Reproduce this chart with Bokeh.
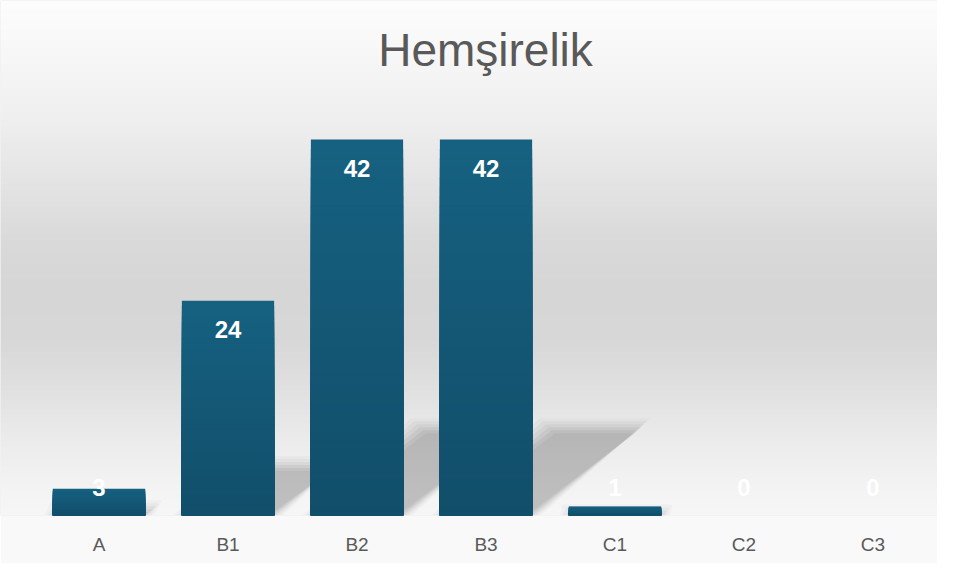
import numpy as np
from bokeh.plotting import figure
from bokeh.models import Range1d, FixedTicker, Label, ColumnDataSource
from bokeh.embed import file_html
from bokeh.resources import INLINE
from bokeh.core.properties import value

# ---- data ----
categories = ["A", "B1", "B2", "B3", "C1", "C2", "C3"]
counts = [3, 24, 42, 42, 1, 0, 0]
title_text = "Hemşirelik"

# ---- layout ----
W, H = 937, 563
FRAME_H = 515
BOTTOM = H - FRAME_H
ppu_y = 376 / 42.0
Y_MAX = FRAME_H / ppu_y
STEP = 129.0
X_START = -98.5 / STEP
X_END = X_START + W / STEP
ppu_x = STEP
BAR_W = 0.715
FONT = "Liberation Sans"

p = figure(width=W, height=H, output_backend="svg", toolbar_location=None,
           x_range=Range1d(X_START, X_END), y_range=Range1d(0, Y_MAX),
           y_axis_location=None, min_border_left=0, min_border_right=0,
           min_border_top=0, min_border_bottom=BOTTOM)
p.outline_line_color = None
p.grid.visible = False
p.border_fill_color = "#f9f9f9"
p.background_fill_color = "#e6e6e6"

# ---- background vertical gradient ----
stops_y = [0, 40, 120, 190, 240, 290, 340, 390, 440, 490, FRAME_H]   # px from top
stops_v = [253, 249, 239, 227, 218, 214, 216, 225, 236, 244, 247]
rows = np.arange(FRAME_H)
figy = FRAME_H - rows - 0.5
g = np.interp(figy, stops_y, stops_v).astype(np.uint8)
img = np.zeros((FRAME_H, 2), dtype=np.uint32)
view = img.view(dtype=np.uint8).reshape((FRAME_H, 2, 4))
view[:, :, 0] = g[:, None]
view[:, :, 1] = g[:, None]
view[:, :, 2] = g[:, None]
view[:, :, 3] = 255
p.image_rgba(image=[img], x=X_START, y=0, dw=X_END - X_START, dh=Y_MAX)

# ---- perspective shadows (soft, layered) ----
xpos = np.arange(len(categories))
vals = np.array(counts, dtype=float)
SH_X, SH_Y = 0.29, 0.235
for grow, alpha in [(9, 0.025), (6, 0.03), (3, 0.04), (0, 0.05), (-3, 0.05), (-6, 0.04)]:
    gx = grow / ppu_x
    gy = grow / ppu_y
    xs, ys = [], []
    for xi, v in zip(xpos, vals):
        if v <= 0:
            continue
        dx = SH_X * v * ppu_y / ppu_x
        dy = SH_Y * v
        x0 = xi - BAR_W / 2 - gx
        x1 = xi + BAR_W / 2 + gx
        xs.append([x0, x1, x1 + dx, x0 + dx])
        ys.append([0, 0, max(dy + gy, 0), max(dy + gy, 0)])
    p.patches(xs, ys, fill_color="black", fill_alpha=alpha, line_color=None)

# ---- bars with vertical gradient (tallest slice first, no seams) ----
N = 40
c_bot = np.array([17, 78, 106])
c_top = np.array([22, 97, 129])
bx, bt, bc = [], [], []
for xi, v in zip(xpos, vals):
    if v <= 0:
        continue
    for j in range(N - 1, -1, -1):
        t = (j + 0.5) / N
        col = (c_bot + (c_top - c_bot) * t).round().astype(int)
        bx.append(xi)
        bt.append(v * (j + 1) / N)
        bc.append("#%02x%02x%02x" % tuple(col))
p.vbar(x=bx, bottom=0, top=bt, width=BAR_W, fill_color=bc, line_color=None)

# ---- data labels ----
L = 28.5 / ppu_y
label_y = np.maximum(vals - L, L)
src = ColumnDataSource(dict(x=xpos, y=label_y, t=[str(c) for c in counts]))
p.text(x="x", y="y", text="t", source=src, text_color="white",
       text_font=value(FONT), text_font_style="bold", text_font_size="24px",
       text_align="center", text_baseline="middle")

# ---- title ----
p.add_layout(Label(x=485, y=FRAME_H - 49, x_units="screen", y_units="screen",
                   text=title_text, text_font=FONT, text_font_size="46px",
                   text_color="#595959", text_align="center", text_baseline="alphabetic"))

# ---- x axis ----
ax = p.xaxis[0]
ax.ticker = FixedTicker(ticks=list(xpos))
ax.major_label_overrides = {int(i): c for i, c in zip(xpos, categories)}
ax.axis_line_color = None
ax.major_tick_line_color = None
ax.minor_tick_line_color = None
ax.major_label_text_font = FONT
ax.major_label_text_font_size = "19px"
ax.major_label_text_color = "#595959"
ax.major_label_standoff = 12

open("out.html", "w").write(file_html(p, INLINE))
